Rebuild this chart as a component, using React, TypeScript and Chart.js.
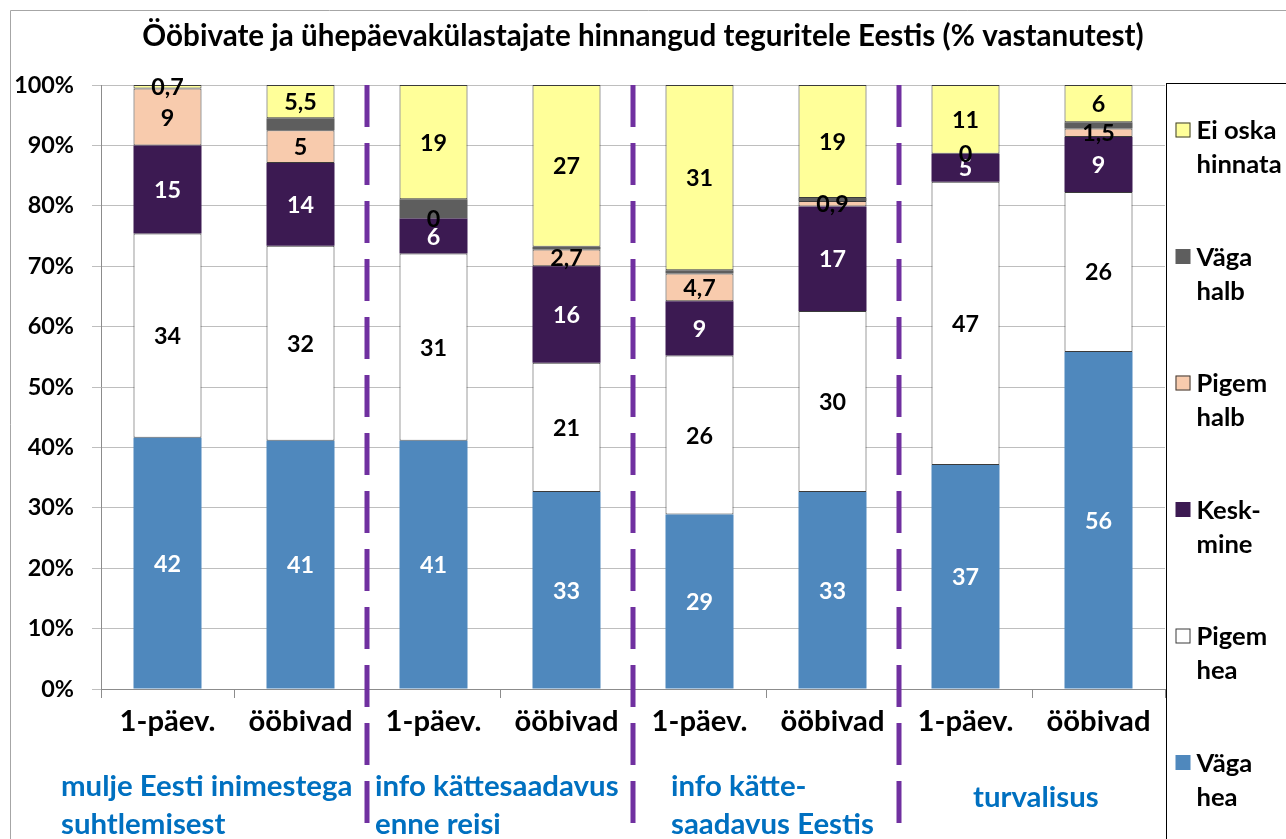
import React, { useEffect, useRef } from 'react';
import { Chart, registerables } from 'chart.js';

Chart.register(...registerables);

// ---------- DATA ----------
const TITLE = 'Ööbivate ja ühepäevakülastajate hinnangud teguritele Eestis (% vastanutest)';
const categories = ['1-päev.', 'ööbivad', '1-päev.', 'ööbivad', '1-päev.', 'ööbivad', '1-päev.', 'ööbivad'];
const groupLabels = [
  ['mulje Eesti inimestega', 'suhtlemisest'],
  ['info kättesaadavus', 'enne reisi'],
  ['info kätte-', 'saadavus Eestis'],
  ['turvalisus'],
];
const yTickValues = [0, 10, 20, 30, 40, 50, 60, 70, 80, 90, 100];

// series, bottom to top
const seriesNames = [
  ['Väga', 'hea'],
  ['Pigem', 'hea'],
  ['Kesk-', 'mine'],
  ['Pigem', 'halb'],
  ['Väga', 'halb'],
  ['Ei oska', 'hinnata'],
];
const vagaHea = [41.6, 41.1, 41.1, 32.6, 28.9, 32.6, 37.1, 55.8];
const pigemHea = [33.8, 32.3, 31.0, 21.4, 26.3, 30.0, 46.9, 26.5];
const keskmine = [14.6, 13.7, 5.8, 16.0, 9.0, 17.3, 4.6, 9.1];
const pigemHalb = [9.4, 5.4, 0, 2.75, 4.6, 0.9, 0, 1.4];
const vagaHalb = [0, 2.0, 3.2, 0.45, 0.55, 0.5, 0, 1.05];
const eiOska = [0.6, 5.5, 18.9, 26.8, 30.65, 18.7, 11.4, 6.15];

// displayed data labels (null = no label)
const vagaHeaLabels = [42, 41, 41, 33, 29, 33, 37, 56];
const pigemHeaLabels = [34, 32, 31, 21, 26, 30, 47, 26];
const keskmineLabels = [15, 14, 6, 16, 9, 17, 5, 9];
const pigemHalbLabels = [9, 5, 0, 2.7, 4.7, 0.9, 0, 1.5];
const vagaHalbLabels = null;
const eiOskaLabels = [0.7, 5.5, 19, 27, 31, 19, 11, 6];

const seriesValues = [vagaHea, pigemHea, keskmine, pigemHalb, vagaHalb, eiOska];
const seriesLabels = [vagaHeaLabels, pigemHeaLabels, keskmineLabels, pigemHalbLabels, vagaHalbLabels, eiOskaLabels];

// ---------- STYLE ----------
const FAMILY = 'Lato, "Open Sans", "DejaVu Sans", sans-serif';
const seriesColors = ['#4F88BD', '#FFFFFF', '#3C1A52', '#F8CBAD', '#5E5E5E', '#FFFF99'];
const seriesBordered = [false, true, false, true, false, true];
const labelColors = ['#FFFFFF', '#000000', '#FFFFFF', '#000000', '#000000', '#000000'];
const BORDER_DARK = '#3A3A3A';
const GRID = '#BEBEBE';
const AXIS = '#8C8C8C';
const DASH_COLOR = '#7030A0';
const GROUP_COLOR = '#0070C0';
const groupOffsets = [-40, 8, 38, 74]; // left offset of group text from the group's left boundary

function fitSize(text: string, target: number): number {
  const ctx = document.createElement('canvas').getContext('2d')!;
  ctx.font = `bold 100px ${FAMILY}`;
  const w = ctx.measureText(text).width;
  return Math.round((100 * target / w) * 10) / 10;
}

const fmt = (v: number) => String(v).replace('.', ',');

export default function App() {
  const ref = useRef<HTMLCanvasElement | null>(null);

  useEffect(() => {
    const canvas = ref.current;
    if (!canvas) return;

    const titleSize = fitSize(TITLE, 1000);
    const yTickSize = fitSize('100%', 60);
    const xTickSize = fitSize('ööbivad', 104);
    const labelSize = fitSize('42', 27);
    const legendSize = fitSize('Ei oska', 80);
    const groupSize = fitSize('mulje Eesti inimestega', 292);

    const titleTop = 19;
    const titleLH = titleSize * 1.2;
    const titleBottom = 85 - titleTop - titleLH;

    const overlay = {
      id: 'overlay',
      afterDatasetsDraw(chart: any) {
        const ctx = chart.ctx;
        ctx.save();
        ctx.textAlign = 'center';
        ctx.textBaseline = 'middle';
        ctx.font = `bold ${labelSize}px ${FAMILY}`;
        seriesLabels.forEach((labels, di) => {
          if (!labels) return;
          const meta = chart.getDatasetMeta(di);
          meta.data.forEach((bar: any, i: number) => {
            const v = labels[i];
            if (v === null || v === undefined) return;
            const cy = (bar.y + bar.base) / 2;
            ctx.fillStyle = labelColors[di];
            ctx.fillText(fmt(v), bar.x, cy + 1);
          });
        });
        ctx.restore();
      },
      afterDraw(chart: any) {
        const ctx = chart.ctx;
        const area = chart.chartArea;
        const xs = chart.scales.x;
        const H = chart.height;
        const W = chart.width;
        ctx.save();

        // outer frame
        ctx.strokeStyle = '#A6A6A6';
        ctx.lineWidth = 1;
        ctx.beginPath();
        ctx.moveTo(10.5, H);
        ctx.lineTo(10.5, 10.5);
        ctx.lineTo(W, 10.5);
        ctx.stroke();

        // dashed group separators
        ctx.strokeStyle = DASH_COLOR;
        ctx.lineWidth = 5;
        ctx.setLineDash([42, 16]);
        for (let g = 1; g < groupLabels.length; g++) {
          const x = (xs.getPixelForValue(2 * g - 1) + xs.getPixelForValue(2 * g)) / 2;
          ctx.beginPath();
          ctx.moveTo(x, area.top);
          ctx.lineTo(x, H);
          ctx.stroke();
        }
        ctx.setLineDash([]);

        // group labels
        ctx.fillStyle = GROUP_COLOR;
        ctx.font = `bold ${groupSize}px ${FAMILY}`;
        ctx.textBaseline = 'middle';
        ctx.textAlign = 'left';
        const half = (xs.getPixelForValue(1) - xs.getPixelForValue(0)) / 2;
        groupLabels.forEach((lines, g) => {
          const left = xs.getPixelForValue(2 * g) - half + groupOffsets[g];
          if (lines.length === 1) {
            ctx.fillText(lines[0], left, area.bottom + 109);
          } else {
            lines.forEach((t, li) => ctx.fillText(t, left, area.bottom + 98 + li * 38));
          }
        });

        // legend
        const lx = area.right + 1.5;
        const ly = area.top - 1.5;
        ctx.strokeStyle = '#000';
        ctx.lineWidth = 1;
        ctx.strokeRect(lx, ly, 400, 1000);
        ctx.font = `bold ${legendSize}px ${FAMILY}`;
        const order = [5, 4, 3, 2, 1, 0];
        order.forEach((di, k) => {
          const y0 = area.top + 45 + k * 126.5;
          ctx.fillStyle = seriesColors[di];
          ctx.fillRect(lx + 9, y0 - 7.5, 15, 15);
          if (seriesBordered[di]) {
            ctx.strokeStyle = BORDER_DARK;
            ctx.strokeRect(lx + 9.5, y0 - 7, 14, 14);
          }
          ctx.fillStyle = '#000';
          seriesNames[di].forEach((t, li) => ctx.fillText(t, lx + 30, y0 + li * 34 + 1));
        });

        ctx.restore();
      },
    };

    const chart = new Chart(canvas, {
      type: 'bar',
      data: {
        labels: categories,
        datasets: seriesValues.map((vals, i) => ({
          label: seriesNames[i].join(' '),
          data: vals,
          backgroundColor: seriesColors[i],
          borderColor: seriesBordered[i] ? BORDER_DARK : seriesColors[i],
          borderWidth: seriesBordered[i] ? 1 : 0,
          borderSkipped: false,
          barPercentage: 68 / 133,
          categoryPercentage: 1,
          stack: 's',
        })),
      },
      options: {
        responsive: false,
        animation: false,
        layout: { padding: 0 },
        plugins: {
          legend: { display: false },
          tooltip: { enabled: false },
          title: {
            display: true,
            text: TITLE,
            color: '#000',
            font: { family: FAMILY, weight: 'bold', size: titleSize, lineHeight: 1.2 },
            padding: { top: titleTop, bottom: titleBottom },
          },
        },
        scales: {
          x: {
            stacked: true,
            grid: { offset: true, drawOnChartArea: false, tickLength: 9, color: AXIS },
            border: { color: AXIS },
            ticks: {
              color: '#000',
              font: { family: FAMILY, weight: 'bold', size: xTickSize },
              padding: 6,
              maxRotation: 0,
              autoSkip: false,
            },
            afterFit: (s: any) => { s.height = 150; },
          },
          y: {
            stacked: true,
            min: 0,
            max: 100,
            afterBuildTicks: (s: any) => { s.ticks = yTickValues.map((v) => ({ value: v })); },
            ticks: {
              callback: (v: any) => `${v}%`,
              padding: 18,
              color: '#000',
              font: { family: FAMILY, weight: 'bold', size: yTickSize },
            },
            grid: { color: GRID, tickLength: 9 },
            border: { color: AXIS },
            afterFit: (s: any) => { s.width = 101; },
          },
          yR: {
            type: 'linear',
            position: 'right',
            grid: { display: false, drawTicks: false },
            border: { display: false },
            ticks: { display: false },
            afterFit: (s: any) => { s.width = 121; },
          },
        },
      } as any,
      plugins: [overlay],
    });

    return () => chart.destroy();
  }, []);

  return (
    <div style={{ position: 'fixed', left: 0, top: 0, width: 1286, height: 839, background: '#fff' }}>
      <canvas ref={ref} width={1286} height={839} />
    </div>
  );
}
